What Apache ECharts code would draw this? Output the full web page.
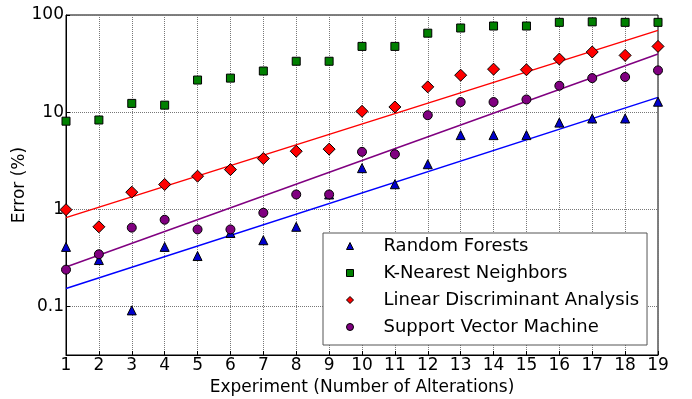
<!DOCTYPE html>
<html lang="en">
<head>
    <meta charset="UTF-8" />
    <title>Error vs experiment</title>
    <script src="https://cdn.jsdelivr.net/npm/echarts@6/dist/echarts.min.js"></script>
    <style>
        body { margin: 0; background: #fff; }
        #main { width: 692px; height: 399px; }
    </style>
</head>
<body>
    <div id="main"></div>
<script type="text/javascript">
    // values (error in %)
    var experiments = [1, 2, 3, 4, 5, 6, 7, 8, 9, 10, 11, 12, 13, 14, 15, 16, 17, 18, 19];
    var rfErr  = [0.41, 0.30, 0.091, 0.41, 0.33, 0.57, 0.48, 0.66, 1.42, 2.65, 1.81, 2.91, 5.8, 5.8, 5.8, 7.8, 8.6, 8.6, 12.8];
    var knnErr = [8.07, 8.3, 12.3, 11.8, 21.4, 22.4, 26.5, 33.4, 33.4, 47.5, 47.5, 65, 73.5, 77, 77, 84, 85, 84, 84];
    var ldaErr = [0.99, 0.66, 1.5, 1.8, 2.19, 2.56, 3.33, 3.96, 4.16, 10.2, 11.3, 18.2, 24, 27.7, 27.3, 35.2, 41.6, 38.4, 47.5];
    var svmErr = [0.239, 0.344, 0.647, 0.78, 0.62, 0.62, 0.92, 1.42, 1.42, 3.9, 3.69, 9.3, 12.7, 12.7, 13.5, 18.7, 22.4, 23, 26.9];

    // fitted trend lines, ends only
    var fitX   = [1, 19];
    var rfFit  = [0.153, 14.2];
    var ldaFit = [0.82, 69.5];
    var svmFit = [0.254, 39.6];

    var names = ['Random Forests', 'K-Nearest Neighbors', 'Linear Discriminant Analysis', 'Support Vector Machine'];
    var icons = ['triangle', 'rect', 'diamond', 'circle'];

    function pairs(xs, ys) {
        return xs.map(function (x, i) { return [x, ys[i]]; });
    }

    var font = 'DejaVu Sans';

    function dots(name, values, symbol, size, color) {
        return {
            name: name,
            type: 'scatter',
            symbol: symbol,
            symbolSize: size,
            z: 3,
            itemStyle: { color: color, borderColor: '#000', borderWidth: 1, opacity: 1 },
            data: pairs(experiments, values)
        };
    }

    function fit(values, color) {
        return {
            type: 'line',
            showSymbol: false,
            silent: true,
            z: 2,
            lineStyle: { color: color, width: 1.5 },
            data: pairs(fitX, values)
        };
    }

    var chart = echarts.init(document.getElementById('main'));
    chart.setOption({
        animation: false,
        grid: {
            left: 66, right: 34, top: 15, bottom: 44,
            outerBoundsMode: 'none',
            containLabel: false,
            show: true, borderColor: '#000', borderWidth: 1
        },
        legend: {
            orient: 'vertical',
            left: 323,
            top: 233,
            padding: [3, 8, 8, 23],
            itemWidth: 7,
            itemHeight: 7,
            itemGap: 7,
            backgroundColor: '#fff',
            borderColor: '#555',
            borderWidth: 1,
            borderRadius: 0,
            itemStyle: { borderWidth: 1, borderColor: '#000' },
            textStyle: { fontFamily: font, fontSize: 18, color: '#000', lineHeight: 20, padding: [0, 0, 0, 25] },
            data: names.map(function (n, i) { return { name: n, icon: icons[i] }; })
        },
        xAxis: {
            type: 'value',
            min: 1,
            max: 19,
            interval: 1,
            name: 'Experiment (Number of Alterations)',
            nameLocation: 'middle',
            nameGap: 20,
            nameTextStyle: { fontFamily: font, fontSize: 17, color: '#000' },
            axisLine: { lineStyle: { color: '#000' } },
            axisTick: { inside: true, length: 4, lineStyle: { color: '#000' } },
            axisLabel: { fontFamily: font, fontSize: 17, color: '#000', margin: 2 },
            splitLine: { show: true, lineStyle: { color: '#777', type: 'dotted', width: 1 } }
        },
        yAxis: {
            type: 'log',
            logBase: 10,
            min: 0.0316,
            max: 100,
            name: 'Error (%)',
            nameLocation: 'middle',
            nameGap: 38,
            nameMoveOverlap: false,
            nameTextStyle: { fontFamily: font, fontSize: 17, color: '#000' },
            axisLine: { lineStyle: { color: '#000' } },
            axisTick: { inside: true, length: 4, lineStyle: { color: '#000' } },
            axisLabel: {
                fontFamily: font, fontSize: 17, color: '#000', margin: 2,
                showMinLabel: false,
                formatter: function (v) {
                    var e = Math.log10(v);
                    if (Math.abs(e - Math.round(e)) > 1e-6) return '';
                    e = Math.round(e);
                    return e < 0 ? Math.pow(10, e).toFixed(-e) : String(Math.pow(10, e));
                }
            },
            splitLine: { show: true, lineStyle: { color: '#777', type: 'dotted', width: 1 } }
        },
        series: [
            fit(rfFit, '#0000ff'),
            fit(ldaFit, '#ff0000'),
            fit(svmFit, '#800080'),
            dots(names[0], rfErr, 'triangle', 9, '#0000cc'),
            dots(names[1], knnErr, 'rect', 8, '#008000'),
            dots(names[2], ldaErr, 'diamond', 12, '#ff0000'),
            dots(names[3], svmErr, 'circle', 9, '#800080')
        ]
    });
</script>
</body>
</html>
